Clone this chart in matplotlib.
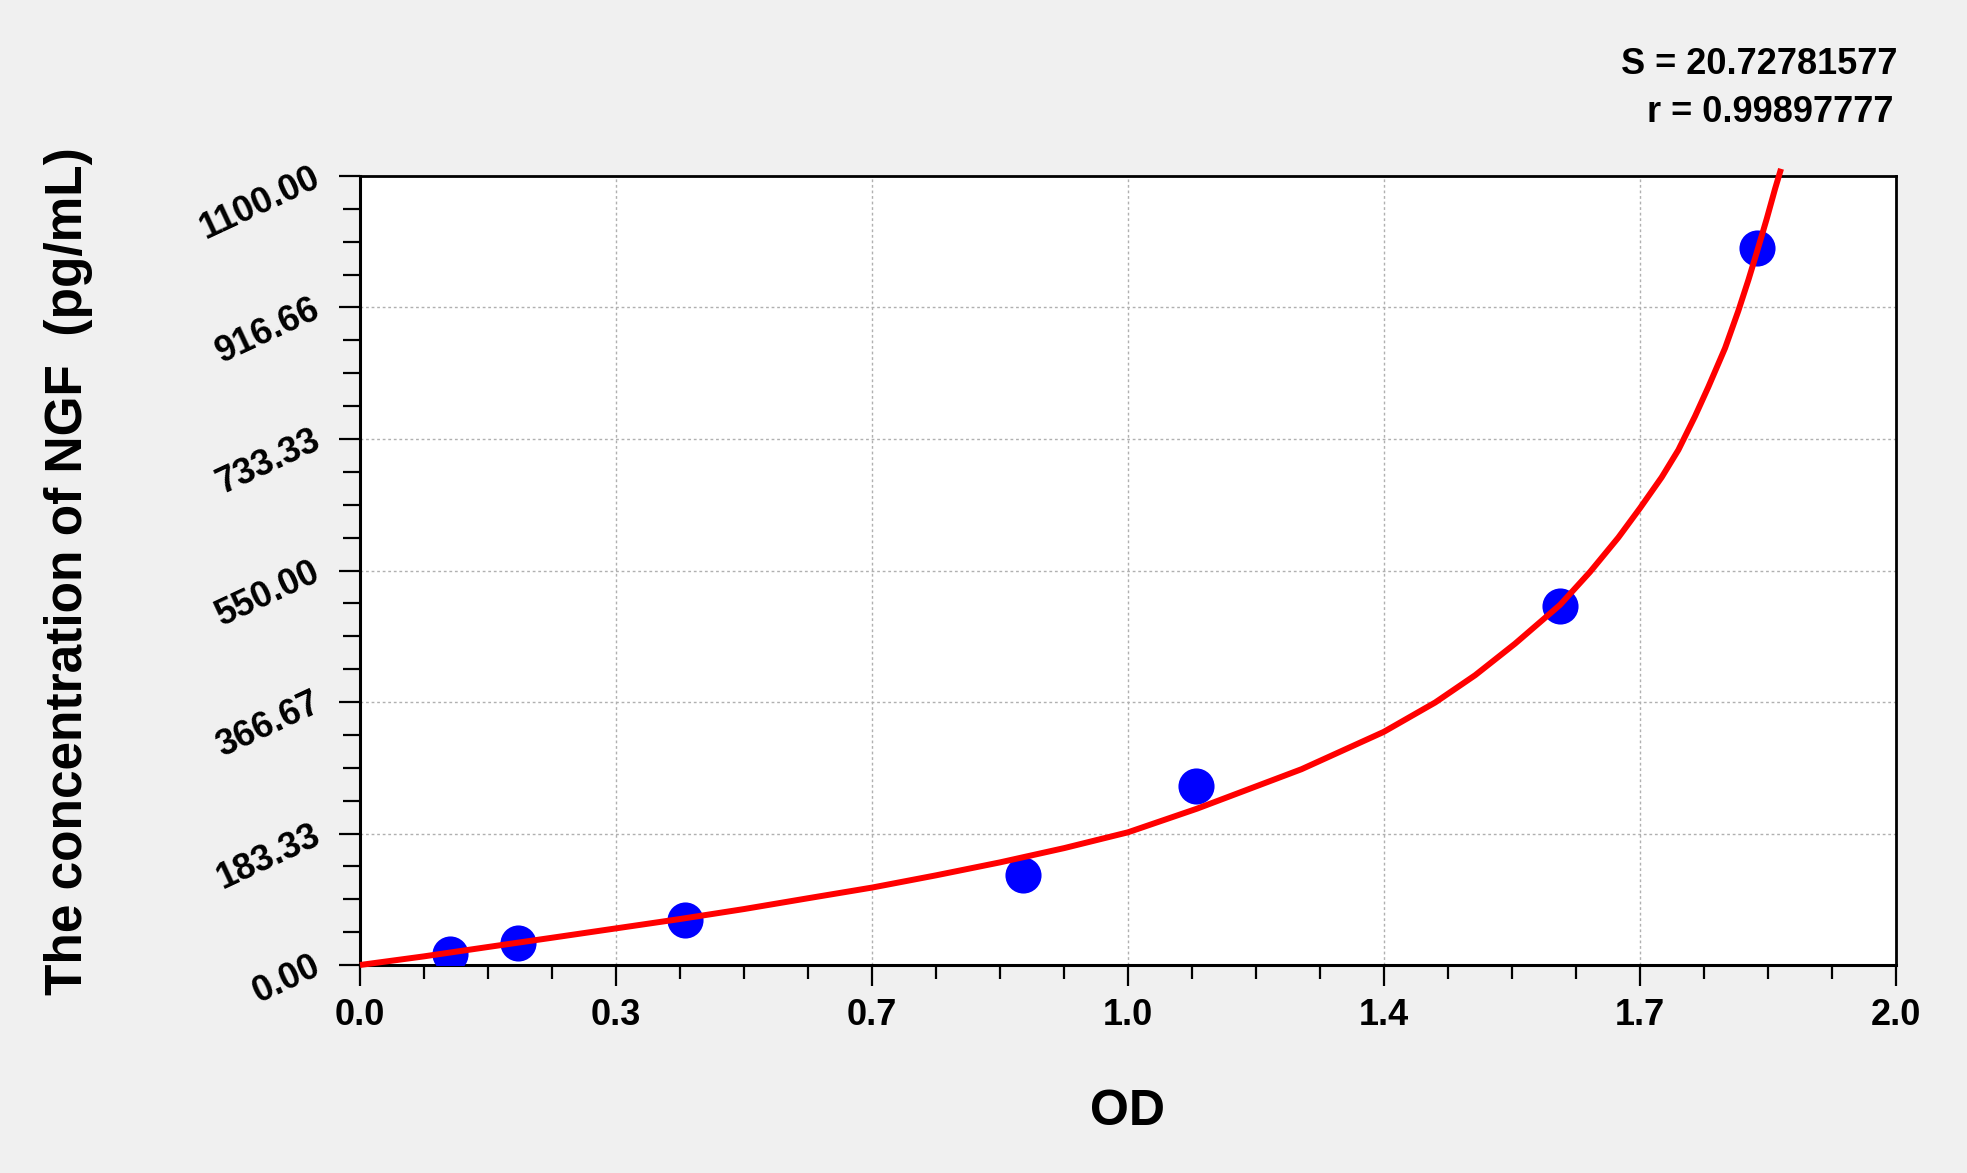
import matplotlib.pyplot as plt
import numpy as np
from matplotlib.ticker import AutoMinorLocator

plt.rcParams['font.family'] = ['Liberation Sans', 'DejaVu Sans']
plt.rcParams['font.weight'] = 'bold'

# standards (OD, concentration pg/mL)
std_od = [0.117, 0.206, 0.423, 0.863, 1.089, 1.563, 1.819]
std_conc = [15.625, 31.25, 62.5, 125, 250, 500, 1000]

# fitted curve
curve_od = [0.0, 0.083, 0.166, 0.25, 0.333, 0.416, 0.5, 0.583, 0.667, 0.75,
            0.833, 0.917, 1.0, 1.09, 1.226, 1.333, 1.4, 1.452, 1.504, 1.5625,
            1.6016, 1.6385, 1.6667, 1.6949, 1.7166, 1.7383, 1.7557, 1.7774,
            1.7947, 1.8078, 1.8186, 1.8316, 1.8425, 1.8503]
curve_conc = [0, 12, 25, 38, 51, 64, 78, 93, 108, 125,
              143, 163, 185, 218, 273, 325, 366, 404, 448, 502,
              548, 596, 637, 680, 718, 765, 806, 860,
              912, 955, 993, 1040, 1082, 1110]

x_ticks = np.linspace(0, 2, 7)
x_labels = ['0.0', '0.3', '0.7', '1.0', '1.4', '1.7', '2.0']
y_ticks = np.linspace(0, 1100, 7)
y_labels = ['0.00', '183.33', '366.67', '550.00', '733.33', '916.66', '1100.00']

S_text = 'S = 20.72781577'
r_text = 'r = 0.99897777'

W, H = 1967, 1173
fig = plt.figure(figsize=(W / 100, H / 100), dpi=100, facecolor='#f0f0f0')
ax = fig.add_axes([360 / W, 1 - 965 / H, (1896 - 360) / W, (965 - 176) / H])
ax.set_facecolor('white')

ax.plot(std_od, std_conc, 'o', color='#0000ff', ms=26, mec='none', zorder=3)
ax.plot(curve_od, curve_conc, color='#ff0000', lw=4.3, zorder=4, clip_on=False,
        solid_capstyle='butt', solid_joinstyle='round')

ax.set_xlim(0, 2)
ax.set_ylim(0, 1100)
ax.set_xticks(x_ticks)
ax.set_xticklabels(x_labels, fontsize=26, fontweight='bold')
ax.set_yticks(y_ticks)
ax.set_yticklabels(y_labels, fontsize=26, fontweight='bold')
for lab in ax.get_yticklabels():
    lab.set_rotation(25)
    lab.set_rotation_mode('anchor')
    lab.set_ha('right')
    lab.set_va('center')

ax.xaxis.set_minor_locator(AutoMinorLocator(4))
ax.yaxis.set_minor_locator(AutoMinorLocator(4))
ax.tick_params(axis='both', which='major', direction='out', length=15, width=1.6, color='black')
ax.tick_params(axis='x', which='minor', direction='out', length=10, width=1.6)
ax.tick_params(axis='y', which='minor', direction='out', length=12, width=1.6)
ax.tick_params(axis='x', which='major', pad=9)
ax.tick_params(axis='y', which='major', pad=15)

ax.grid(True, which='major', color='#b0b0b0', linestyle=(0, (2, 2)), linewidth=1.0)
ax.set_axisbelow(True)
for side in ['left', 'bottom']:
    ax.spines[side].set_linewidth(2.2)
for side in ['top', 'right']:
    ax.spines[side].set_linewidth(2.0)

fig.text(69 / W, 1 - 571 / H, 'The concentration of NGF  (pg/mL)', rotation=90,
         ha='center', va='center', fontsize=37, fontweight='bold')
fig.text(1127 / W, 1 - 1112 / H, 'OD', ha='center', va='center',
         fontsize=36, fontweight='bold')
fig.text(1897 / W, 1 - 65 / H, S_text, ha='right', va='center', fontsize=26, fontweight='bold')
fig.text(1893 / W, 1 - 113 / H, r_text, ha='right', va='center', fontsize=26, fontweight='bold')

fig.savefig('out.png', dpi=100, facecolor=fig.get_facecolor())
